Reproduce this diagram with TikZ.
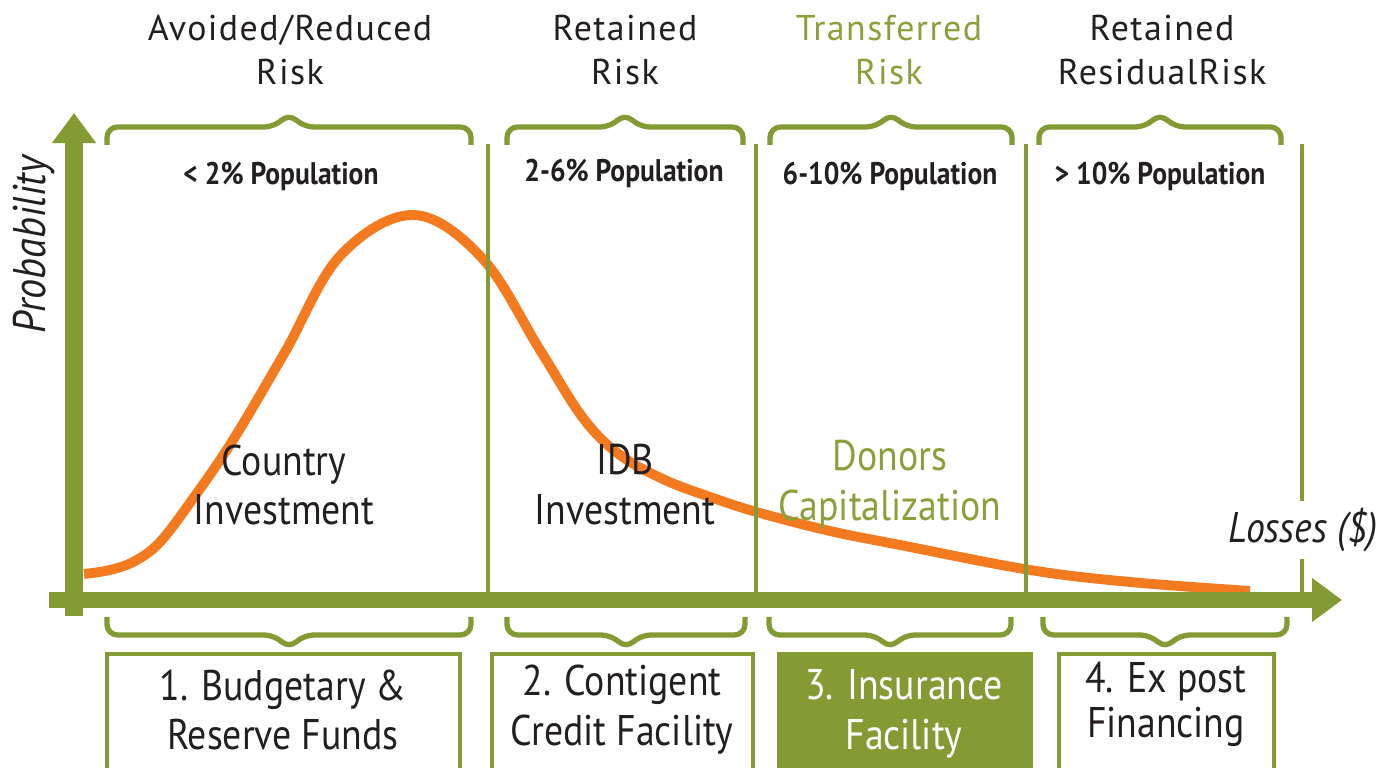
\documentclass[tikz,border=0pt]{standalone}
\usepackage{fontspec}
\setmainfont{PT Sans}[FakeStretch=0.88]
\newfontfamily\headfont{PT Sans}[LetterSpace=4]
\usetikzlibrary{arrows.meta}
\definecolor{riskgreen}{RGB}{132,154,51}
\definecolor{lightgreen}{RGB}{139,160,58}
\definecolor{lossorange}{RGB}{244,122,32}
\definecolor{inkblack}{RGB}{35,31,32}
\tikzstyle{axis}=[draw=riskgreen,-{Triangle[length=0.3cm,width=0.42cm]}]
\tikzstyle{divider}=[draw=riskgreen,line width=1.2pt]
\tikzstyle{brace}=[draw=riskgreen,line width=1.5pt,rounded corners=3pt]
\tikzstyle{fundbox}=[draw=riskgreen,line width=1.1pt]
\tikzstyle{heading}=[font=\headfont\fontsize{10.2}{12.4}\selectfont,align=center,text=inkblack]
\tikzstyle{share}=[font=\bfseries\fontsize{8.9}{10.5}\selectfont,text=inkblack]
\tikzstyle{payer}=[font=\fontsize{12.2}{14.2}\selectfont,align=center,text=inkblack]

\begin{document}
\begin{tikzpicture}[x=0.01cm,y=-0.01cm]
\useasboundingbox (0,0) rectangle (1391,768);

   \def\ytop{127};
   \def\ybot{635};
   \def\tip{14};

% loss distribution
  \draw[lossorange,line width=2.8pt] plot[smooth,tension=0.6] coordinates {(84,574) (110,570) (135,561) (160,542) (192,500) (233,440) (285,352) (340,256) (413,215) (482,258) (540,350) (583,418) (620,455) (665,480) (713,498) (760,513) (830,531) (900,545) (1030,570) (1130,582) (1250,591)};

% layer boundaries
  \foreach \x in {488,756,1026,1302}
     \draw[divider] (\x,144) -- (\x,593);

% axes
  \draw[axis,line width=5.3pt] (74,616) -- (74,113);
  \draw[axis,line width=4.3pt] (49,600) -- (1342,600);

% braces above and below
  \foreach \l/\r in {107/471, 507/743, 770/1012, 1039/1281}
  {
     \pgfmathsetmacro\m{(\l+\r)/2}
     \draw[brace] (\l,145) -- (\l,\ytop) -- (\m-\tip,\ytop) -- (\m,\ytop-\tip) -- (\m+\tip,\ytop) -- (\r,\ytop) -- (\r,145);
  }
  \foreach \l/\r in {107/471, 507/745, 769/1011, 1043/1287}
  {
     \pgfmathsetmacro\m{(\l+\r)/2}
     \draw[brace] (\l,617) -- (\l,\ybot) -- (\m-\tip,\ybot) -- (\m,\ybot+\tip) -- (\m+\tip,\ybot) -- (\r,\ybot) -- (\r,617);
  }

% Label
  \node[heading] (avoided) at (290,50) {Avoided/Reduced\\Risk};
  \node[heading] (retained) at (625,50) {Retained\\Risk};
  \node[heading,text=lightgreen] (transferred) at (889,50) {Transferred\\Risk};
  \node[heading] (residual) at (1162,50) {Retained\\ResidualRisk};

  \foreach \pos/\name/\label in {{(281,176)/popA/{< 2\% Population}}, {(624,173)/popB/{2-6\% Population}}, {(890,176)/popC/{6-10\% Population}}, {(1160,176)/popD/{> 10\% Population}}}
     \node[share] (\name) at \pos {\label};

  \node[payer] (country) at (284,485) {Country\\Investment};
  \node[payer] (idb) at (625,485) {IDB\\Investment};
  \node[payer,text=lightgreen] (donors) at (890,485) {Donors\\Capitalization};

  \node[font=\itshape\fontsize{13}{15}\selectfont,rotate=90,text=inkblack] (prob) at (34,245) {Probability};
  \node[font=\itshape\fontsize{12.2}{14}\selectfont,fill=white,inner sep=2pt,text=inkblack] (losses) at (1303,530) {Losses (\$)};

% funding layers
  \draw[fundbox] (107,654) rectangle (460,800);
  \draw[fundbox] (492,654) rectangle (753,800);
  \draw[fundbox,fill=riskgreen] (779,654) rectangle (1031,800);
  \draw[fundbox] (1059,654) rectangle (1274,800);

  \node[payer] (budget) at (283,710) {1. Budgetary \&\\Reserve Funds};
  \node[payer] (credit) at (622,710) {2. Contigent\\Credit Facility};
  \node[payer,text=white] (insurance) at (904,714) {3. Insurance\\Facility};
  \node[payer,font=\fontsize{12.2}{12.8}\selectfont] (expost) at (1166,704) {4. Ex post\\Financing};

\end{tikzpicture}
\end{document}
